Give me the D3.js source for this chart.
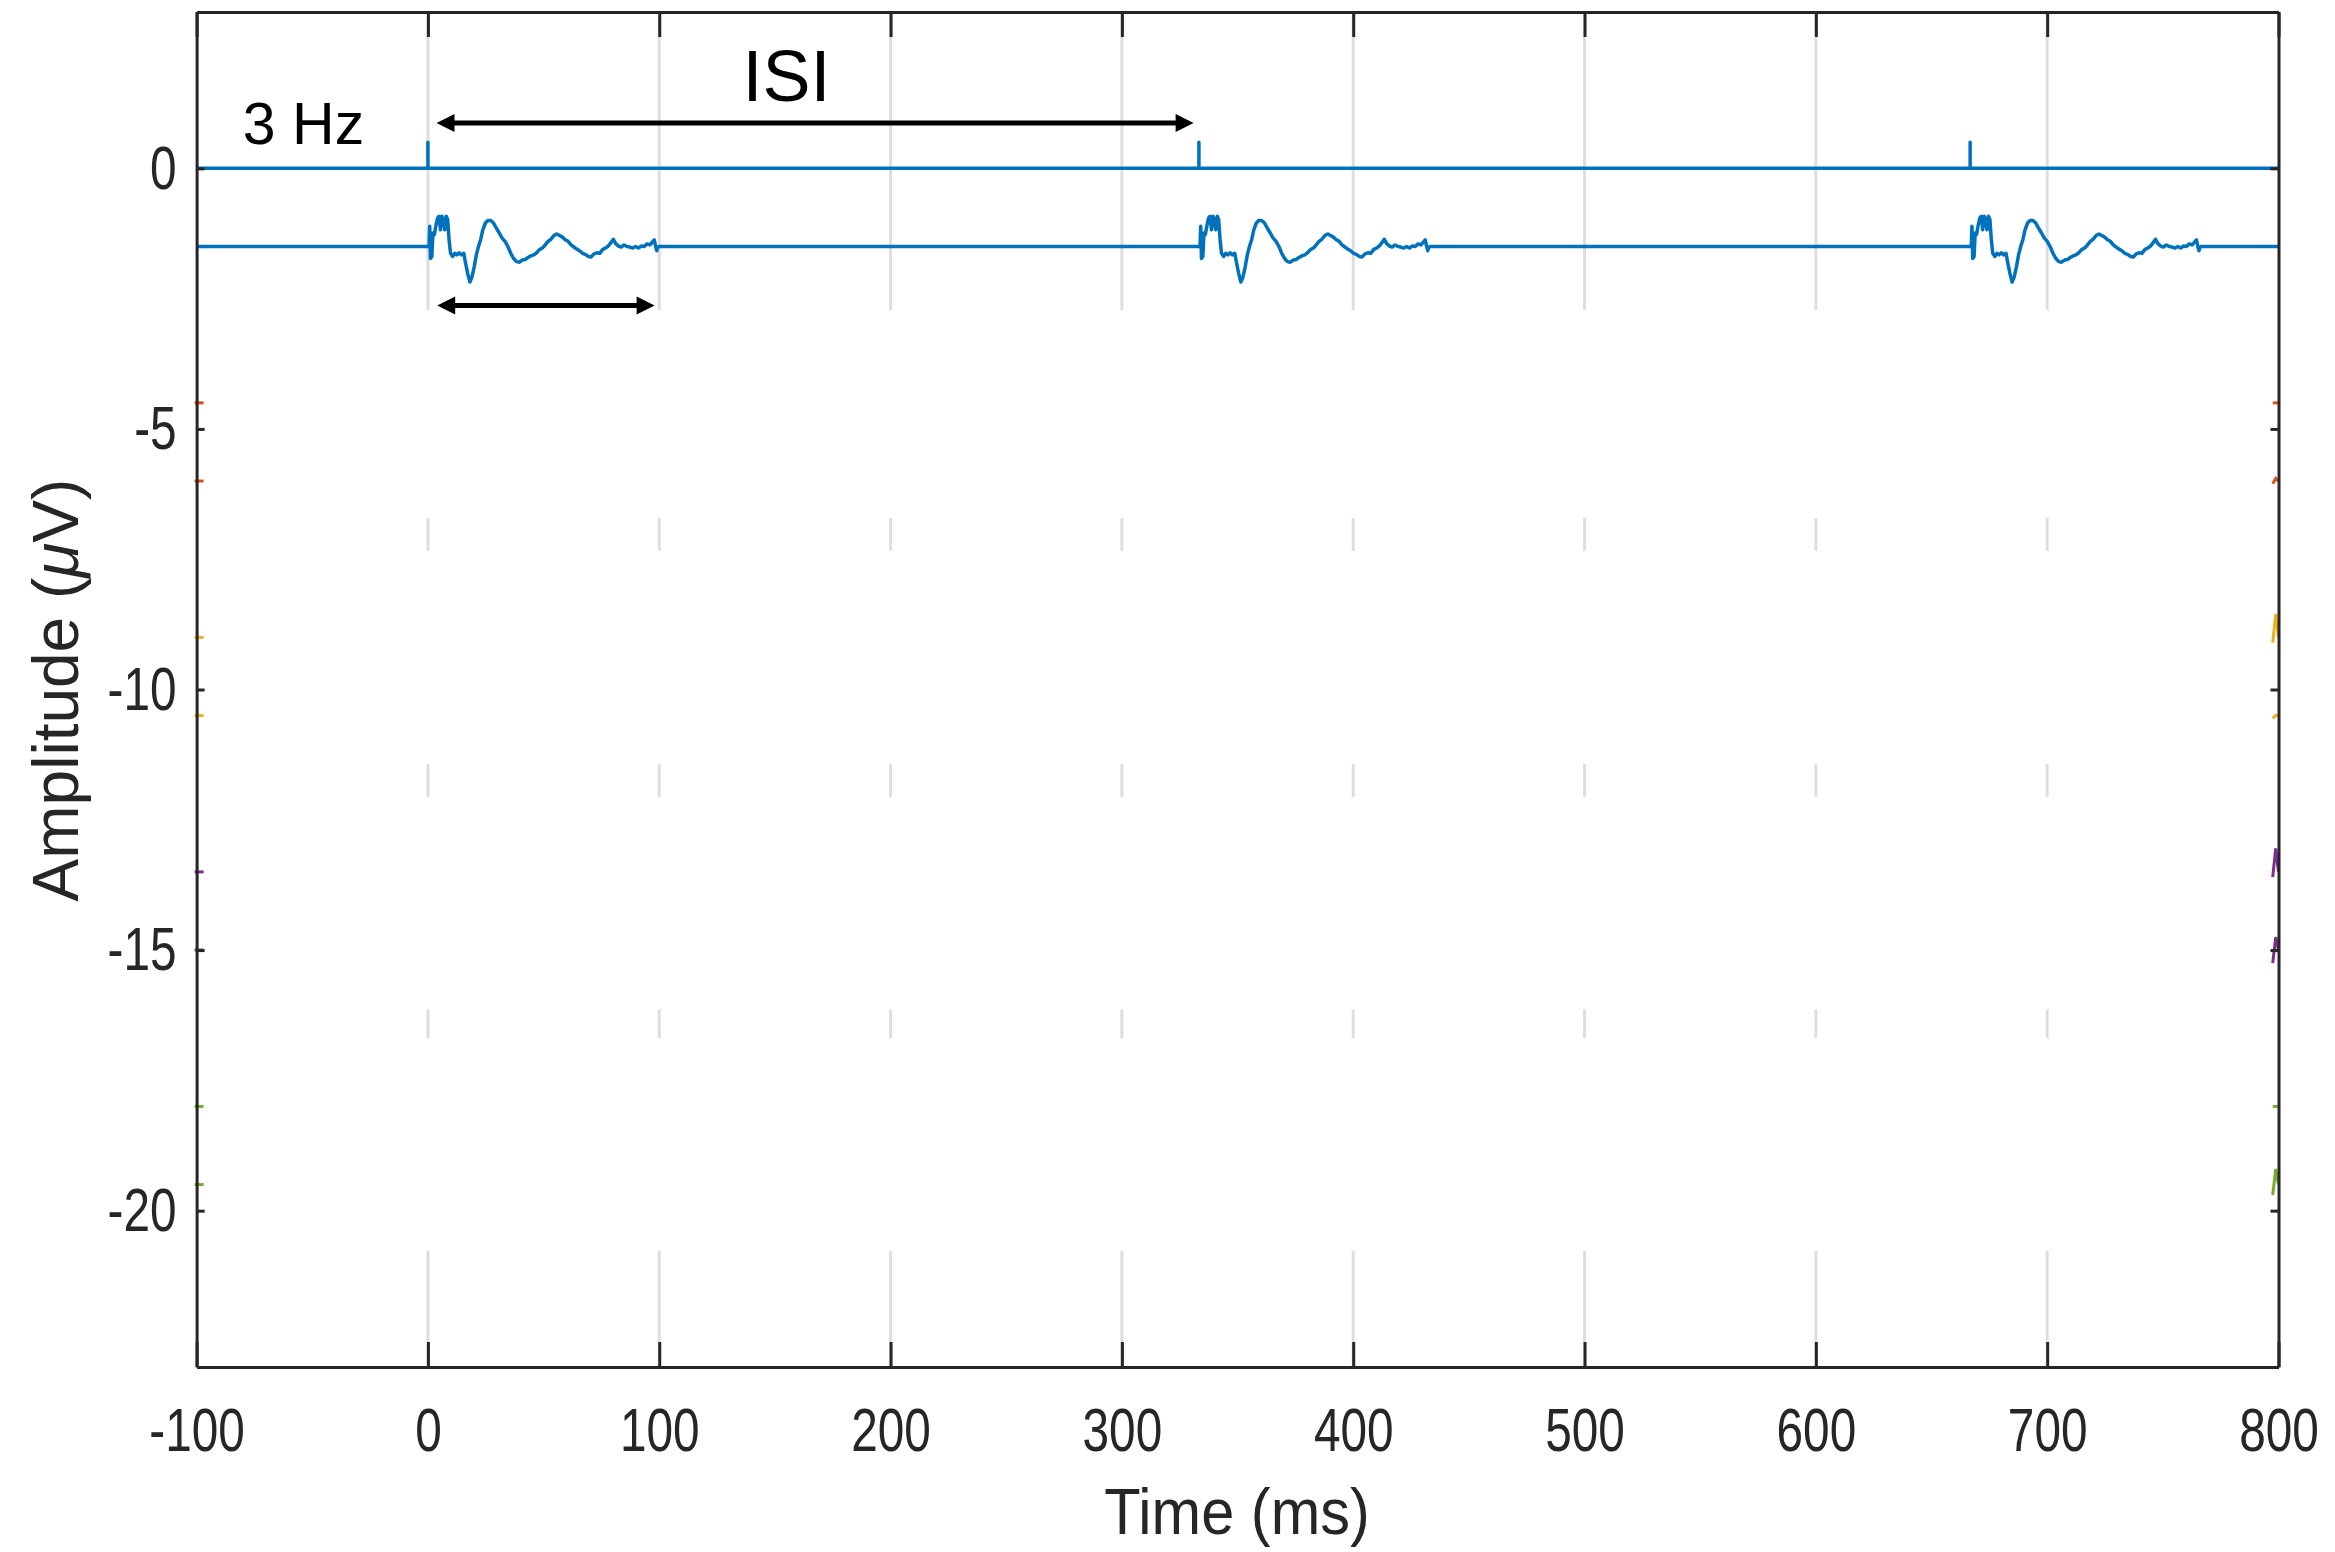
<!DOCTYPE html>
<html><head><meta charset="utf-8">
<script src="https://cdn.jsdelivr.net/npm/d3@7"></script>
<style>body{margin:0;background:#fff}svg{display:block}</style>
</head><body>
<svg id="chart" width="2335" height="1552"></svg>
<script>
// ---------- data ----------
const xTicks = [-100, 0, 100, 200, 300, 400, 500, 600, 700, 800];
const yTicks = [0, -5, -10, -15, -20];
const xDomain = [-100, 800];
const yDomain = [-23, 3];

const stimOnsets = [0, 333.3, 666.7];          // ms (3 Hz)
const stimBaseline = 0;                         // µV
const stimPulseAmp = 0.5;                       // µV
const respBaseline = -1.5;                      // µV

// evoked response epoch (ms after onset, µV relative to baseline)
const epochTime = [0,0.47,0.78,1.09,1.71,2.17,2.79,3.41,4.19,4.81,5.43,6.05,6.67,7.29,7.91,8.53,9.15,9.77,10.7,11.63,12.56,13.49,14.42,15.5,16.28,17.21,18.14,19.07,20.0,20.93,21.86,22.79,23.72,24.81,25.89,27.13,28.37,29.61,30.85,32.09,33.33,34.57,35.81,37.05,38.29,39.53,40.78,42.02,43.26,44.5,45.74,46.98,48.22,49.46,50.7,51.94,53.18,54.42,55.66,56.9,58.14,59.38,60.62,61.86,63.1,64.34,65.58,66.82,68.06,69.3,70.54,71.78,73.02,74.26,75.5,76.74,77.98,79.22,80.16,81.09,82.33,83.57,84.81,86.05,87.29,88.53,89.77,91.01,92.25,93.49,94.73,95.97,96.9,97.83,98.45,98.91,99.38,100];
const epochAmp  = [0,0,0.39,-0.23,-0.19,0.26,0.23,0.39,0.55,0.58,0.32,0.58,0.52,0.32,0.58,0.52,0.13,-0.13,-0.19,-0.13,-0.16,-0.12,-0.16,-0.13,-0.32,-0.52,-0.68,-0.58,-0.39,-0.16,0,0.13,0.32,0.45,0.5,0.5,0.45,0.35,0.26,0.16,0.10,0,-0.13,-0.23,-0.29,-0.30,-0.26,-0.25,-0.21,-0.18,-0.16,-0.12,-0.06,-0.03,0.03,0.10,0.14,0.21,0.24,0.21,0.18,0.13,0.10,0.03,-0.01,-0.05,-0.08,-0.13,-0.15,-0.19,-0.2,-0.14,-0.12,-0.13,-0.06,-0.03,0.01,0.08,0.14,0.06,0.01,-0.01,0.03,0,-0.01,-0.03,0,-0.03,0.01,0,0.05,0.03,0.08,0.13,0,-0.08,-0.01,0];

// annotations
const isiArrow = {from: 3.7, to: 331, level: 0.87};
const durArrow = {from: 4, to: 98, level: -2.63};
const labelHz = {text: "3 Hz", t: -80, v: 0.46};
const labelISI = {text: "ISI", t: 155, v: 1.29};

// erased bands (µV ranges) where grid is hidden
const maskBands = [[-2.72, -6.71], [-7.34, -11.43], [-12.06, -16.14], [-16.69, -20.77]];

// remnant trace ends at the axes edges
const remnantColors = ["#D95319", "#D95319", "#EDB120", "#EDB120", "#7E2F8E", "#7E2F8E", "#77AC30", "#77AC30"];
const remnantLevels = [-4.5, -6.0, -9.0, -10.5, -13.5, -15.0, -18.0, -19.5];
const remnantRightTop = [-4.5, -5.95, -8.55, -10.5, -13.05, -14.75, -18.0, -19.2];
const remnantRightBot = [-4.5, -6.05, -9.1, -10.55, -13.6, -15.25, -18.0, -19.7];

// ---------- layout ----------
const M = {left: 196.6, top: 12, right: 2278.5, bottom: 1367};
const svg = d3.select("#chart");
const x = d3.scaleLinear().domain(xDomain).range([M.left, M.right]);
const y = d3.scaleLinear().domain(yDomain).range([M.bottom, M.top]);
const FONT = "'Liberation Sans', Arial, Helvetica, sans-serif";
const AX = "#262626";
const fmt = d => String(d);

// grid
svg.append("g").selectAll("line").data(xTicks.slice(1, -1)).join("line")
  .attr("x1", d => x(d)).attr("x2", d => x(d))
  .attr("y1", M.top).attr("y2", M.bottom)
  .attr("stroke", "#dedede").attr("stroke-width", 3);

// masks
svg.append("g").selectAll("rect").data(maskBands).join("rect")
  .attr("x", x(xDomain[0]) + 6).attr("width", x(xDomain[1]) - x(xDomain[0]) - 10)
  .attr("y", d => y(d[0])).attr("height", d => y(d[1]) - y(d[0]))
  .attr("fill", "#fff");

// traces
const stimPts = [[xDomain[0], stimBaseline]];
stimOnsets.forEach(o => { stimPts.push([o, stimBaseline], [o, stimBaseline + stimPulseAmp], [o, stimBaseline]); });
stimPts.push([xDomain[1], stimBaseline]);
const respPts = [[xDomain[0], respBaseline]];
stimOnsets.forEach(o => { epochTime.forEach((t, i) => respPts.push([o + t, respBaseline + epochAmp[i]])); });
respPts.push([xDomain[1], respBaseline]);
const line = d3.line().x(d => x(d[0])).y(d => y(d[1]));
svg.append("path").attr("d", line(stimPts)).attr("fill", "none")
  .attr("stroke", "#0072BD").attr("stroke-width", 3.5).attr("stroke-linejoin", "round");
svg.append("path").attr("d", line(respPts)).attr("fill", "none")
  .attr("stroke", "#0072BD").attr("stroke-width", 3.5).attr("stroke-linejoin", "round");

// remnants
const rem = svg.append("g");
remnantLevels.forEach((v, i) => {
  rem.append("line").attr("x1", x(xDomain[0]) - 2).attr("x2", x(xDomain[0]) + 7)
    .attr("y1", y(v)).attr("y2", y(v)).attr("stroke", remnantColors[i]).attr("stroke-width", 3);
  rem.append("path").attr("d", line([[xDomain[1] - 2.5, remnantRightBot[i]], [xDomain[1] - 1.2, remnantRightTop[i]], [xDomain[1], remnantLevels[i]]]))
    .attr("fill", "none").attr("stroke", remnantColors[i]).attr("stroke-width", 3);
});

// axes
const sx = 0.77;
function styleAxis(g) {
  g.select(".domain").attr("stroke", AX).attr("stroke-width", 3);
  g.selectAll(".tick line").attr("stroke", AX).attr("stroke-width", 3);
  g.selectAll("text").attr("fill", AX).attr("font-family", FONT).attr("font-size", 62);
}
svg.append("g").attr("transform", `translate(0,${M.bottom})`)
  .call(d3.axisBottom(x).tickValues(xTicks).tickFormat(fmt).tickSizeInner(-25).tickSizeOuter(0).tickPadding(40))
  .call(styleAxis)
  .call(g => g.selectAll("text").attr("transform", `scale(${sx},1)`));
svg.append("g").attr("transform", `translate(0,${M.top})`)
  .call(d3.axisTop(x).tickValues(xTicks).tickSizeInner(-25).tickSizeOuter(0).tickFormat(""))
  .call(styleAxis);
svg.append("g").attr("transform", `translate(${M.left},0)`)
  .call(d3.axisLeft(y).tickValues(yTicks).tickFormat(fmt).tickSizeInner(-8).tickSizeOuter(0).tickPadding(20))
  .call(styleAxis)
  .call(g => g.selectAll("text").attr("x", -20 / sx).attr("transform", `scale(${sx},1)`));
svg.append("g").attr("transform", `translate(${M.right},0)`)
  .call(d3.axisRight(y).tickValues(yTicks).tickSizeInner(-8).tickSizeOuter(0).tickFormat(""))
  .call(styleAxis);

// axis labels
svg.append("text").attr("transform", `translate(1237,1534) scale(0.93,1)`)
  .attr("text-anchor", "middle").attr("font-family", FONT).attr("font-size", 64).attr("fill", AX)
  .text("Time (ms)");
const yl = svg.append("text").attr("transform", `translate(78,690) rotate(-90)`)
  .attr("text-anchor", "middle").attr("font-family", FONT).attr("font-size", 64).attr("fill", AX);
yl.append("tspan").text("Amplitude (");
yl.append("tspan").attr("font-style", "italic").text("\u03BC");
yl.append("tspan").text("V)");

// annotations
svg.append("text").attr("x", x(labelHz.t)).attr("y", y(labelHz.v))
  .attr("font-family", FONT).attr("font-size", 59).attr("fill", "#000").text(labelHz.text);
svg.append("text").attr("x", x(labelISI.t)).attr("y", y(labelISI.v)).attr("text-anchor", "middle")
  .attr("font-family", FONT).attr("font-size", 72).attr("fill", "#000").text(labelISI.text);

function arrow(a) {
  const x1 = x(a.from), x2 = x(a.to), yy = y(a.level), L = 18, H = 9;
  const g = svg.append("g");
  g.append("line").attr("x1", x1 + L - 2).attr("x2", x2 - L + 2).attr("y1", yy).attr("y2", yy)
    .attr("stroke", "#000").attr("stroke-width", 5);
  g.append("path").attr("d", `M${x1},${yy} L${x1 + L},${yy - H} L${x1 + L},${yy + H} Z`).attr("fill", "#000");
  g.append("path").attr("d", `M${x2},${yy} L${x2 - L},${yy - H} L${x2 - L},${yy + H} Z`).attr("fill", "#000");
}
arrow(isiArrow);
arrow(durArrow);
</script>
</body></html>
